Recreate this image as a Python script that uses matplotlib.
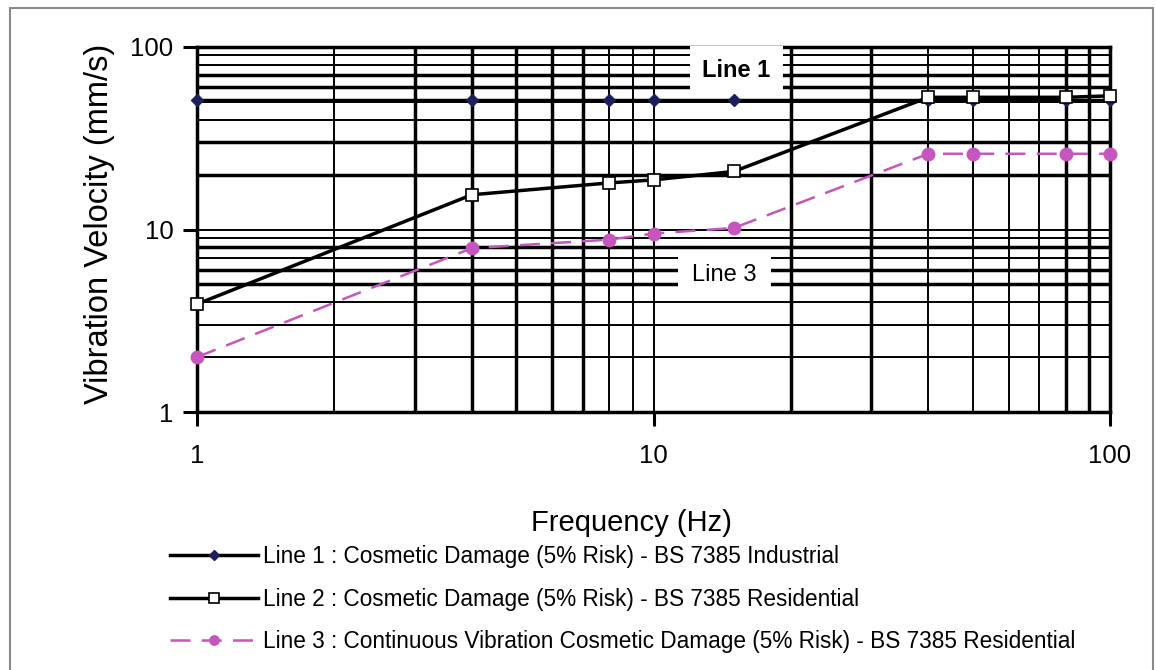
import matplotlib
matplotlib.use("Agg")
import matplotlib.pyplot as plt
from matplotlib.patches import Rectangle
from matplotlib.ticker import LogLocator, NullFormatter, FixedLocator
import numpy as np

plt.rcParams['font.family'] = ['Liberation Sans', 'DejaVu Sans']

# frequencies (Hz) where the limits are given
freq = [1, 4, 8, 10, 15, 40, 50, 80, 100]
# vibration velocity limits (mm/s)
line1 = [51, 51, 51, 51, 51, 51, 51, 51, 51]
line2 = [3.9, 15.5, 18, 18.7, 20.8, 53, 53, 53, 54]
line3 = [2, 7.9, 8.8, 9.5, 10.2, 26, 26, 26, 26]

labels = [
    "Line 1 : Cosmetic Damage (5% Risk) - BS 7385 Industrial",
    "Line 2 : Cosmetic Damage (5% Risk) - BS 7385 Residential",
    "Line 3 : Continuous Vibration Cosmetic Damage (5% Risk) - BS 7385 Residential",
]
pink = '#C655BD'

fig = plt.figure(figsize=(11.56, 6.70), dpi=100)
ax = fig.add_axes([197 / 1156, 1 - 412 / 670, 913 / 1156, 365 / 670])

ax.set_xscale('log')
ax.set_yscale('log')
ax.set_xlim(1, 100)
ax.set_ylim(1, 100)

# grid: every decade step, drawn black like the scanned original
ax.xaxis.set_major_locator(FixedLocator([1, 10, 100]))
ax.yaxis.set_major_locator(FixedLocator([1, 10, 100]))
ax.xaxis.set_minor_locator(LogLocator(base=10, subs=np.arange(2, 10)))
ax.yaxis.set_minor_locator(LogLocator(base=10, subs=np.arange(2, 10)))
ax.xaxis.set_minor_formatter(NullFormatter())
ax.yaxis.set_minor_formatter(NullFormatter())
ax.set_xticklabels(['1', '10', '100'])
ax.set_yticklabels(['1', '10', '100'])
ax.grid(True, which='both', color='black', linewidth=1.4)
ax.set_axisbelow(True)

# thicker lines where the scan shows them heavier
thick_x = {3, 4, 5, 6, 7, 20, 30, 80, 90}
thick_y = {5, 6, 8, 20, 30, 60, 70}
fig.canvas.draw()
for t in ax.xaxis.get_minor_ticks():
    if round(t.get_loc()) in thick_x:
        t.gridline.set_linewidth(2.5)
for t in ax.yaxis.get_minor_ticks():
    if round(t.get_loc()) in thick_y:
        t.gridline.set_linewidth(2.5)

ax.tick_params(which='major', direction='out', length=10, width=2.2, colors='black',
               labelsize=18.5)
ax.tick_params(axis='x', which='major', pad=13)
ax.tick_params(axis='y', which='major', pad=7)
ax.tick_params(which='minor', length=0)
for s in ax.spines.values():
    s.set_linewidth(2.5)
    s.set_color('black')

ax.plot(freq, line1, color='black', lw=2.5, marker='D', markersize=6.5,
        markerfacecolor='#1c1f5c', markeredgecolor='#1c1f5c', label=labels[0],
        zorder=4, clip_on=False)
ax.plot(freq, line2, color='black', lw=2.5, marker='s', markersize=9,
        markerfacecolor='white', markeredgecolor='black', markeredgewidth=1.2,
        label=labels[1], zorder=5, clip_on=False)
ax.plot(freq, line3, color=pink, lw=1.8, linestyle=(0, (8, 4.5)), marker='o', markersize=9,
        markerfacecolor=pink, markeredgecolor=pink, label=labels[2], zorder=4,
        clip_on=False)

ax.text(15.2, 74.5, 'Line 1', fontsize=17, fontweight='bold', ha='center', va='center',
        zorder=3.5, bbox=dict(facecolor='white', edgecolor='none', pad=9))
ax.text(14.3, 5.63, 'Line 3', fontsize=17, ha='center', va='center',
        zorder=3.5, bbox=dict(facecolor='white', edgecolor='none', pad=10))

ax.set_ylabel('Vibration Velocity (mm/s)', fontsize=23.5)
ax.yaxis.set_label_coords(-0.090, 0.516)
fig.text(631 / 1156, 1 - 523 / 670, 'Frequency (Hz)', fontsize=21, ha='center', va='center')

fig.legend(loc='upper left', bbox_to_anchor=(170 / 1156, 1 - 545 / 670), frameon=False,
           fontsize=16.3, handlelength=3.9, handletextpad=0.2, labelspacing=0.87,
           borderpad=0, borderaxespad=0, markerscale=0.75)

fig.patches.append(Rectangle((10 / 1156, -0.05), 1143 / 1156, 1.05 - 8 / 670,
                             transform=fig.transFigure, fill=False,
                             edgecolor='#8a8a8a', linewidth=1.5))

fig.savefig('out.png', dpi=100)
